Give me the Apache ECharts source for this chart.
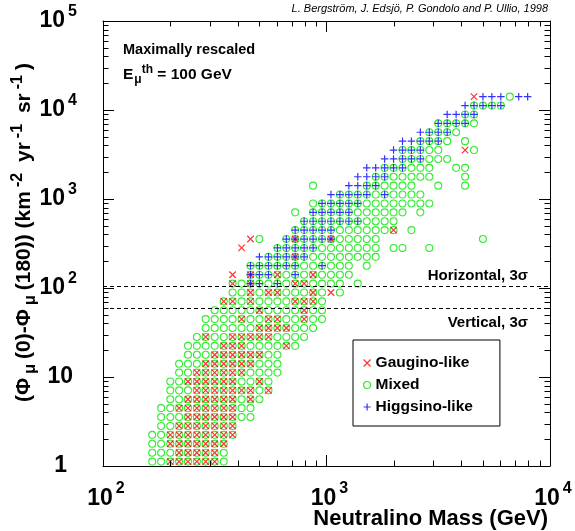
<!DOCTYPE html>
<html>
<head>
<meta charset="utf-8">
<title>Neutralino mass vs muon flux difference</title>
<script src="https://cdn.jsdelivr.net/npm/echarts@6.0.0/dist/echarts.min.js"></script>
<style>
  html, body { margin: 0; padding: 0; background: #fff; }
  #chart { width: 575px; height: 531px; }
</style>
</head>
<body>
<div id="chart"></div>
<script>
// bin centres of the log grid the models sit on
const massBins = [166, 182, 200, 219, 240, 263, 288, 316, 347, 380, 417, 457, 501, 550, 603,
  661, 724, 794, 871, 955, 1047, 1148, 1259, 1380, 1514, 1660, 1820, 1995, 2188, 2399, 2630,
  2884, 3162, 3467, 3802, 4169, 4571, 5012, 5495, 6026, 6607, 7244, 7943];
const fluxBins = [1.12, 1.41, 1.78, 2.24, 2.82, 3.55, 4.47, 5.62, 7.08, 8.91, 11.2, 14.1, 17.8,
  22.4, 28.2, 35.5, 44.7, 56.2, 70.8, 89.1, 112, 141, 178, 224, 282, 355, 447, 562, 708, 891,
  1122, 1413, 1778, 2239, 2818, 3548, 4467, 5623, 7079, 8913, 11220, 14125];

// [flux bin, first mass bin, cells]
// o mixed, x gaugino + mixed, X gaugino only, + higgsino only, h higgsino + mixed, a all three
const cellRows = [
  [41, 36, 'X+++o++'],
  [40, 35, '+hhhh'],
  [39, 33, '++hh'],
  [38, 32, 'hhhho'],
  [37, 30, '+hhho'],
  [36, 28, '++hhho.o'],
  [35, 27, '+hhhoo..Xo'],
  [34, 26, '++hhhooo'],
  [33, 24, '++hhhooo..oo'],
  [32, 23, '++hhooooo...o'],
  [31, 18, 'o...++hhoooo..o..o'],
  [30, 20, '+hhhhohoooo'],
  [29, 18, 'ohhhhhoooooooo'],
  [28, 16, 'o.hhhhhoooooo.o'],
  [27, 17, 'hhhhhhhoooo'],
  [26, 16, 'hhhhhoooooox.o'],
  [25, 11, 'Xo..hahhhaooooo...........o'],
  [24, 10, 'X...hhhhhooooooo.oo..o'],
  [23, 12, '+hhhahoooooooo'],
  [22, 11, 'hhhhhhoohooo.o'],
  [21, 9, 'X.ahhxohoxoooo'],
  [20, 9, 'xoahohoxxoooo.o'],
  [19, 9, 'ooxoxxoooxoXo'],
  [18, 8, 'xxoxooooxxxo'],
  [17, 7, 'oooooxooooxoo'],
  [16, 6, 'ooooxooxxooxoo'],
  [15, 6, 'ooooooxxxxooo'],
  [14, 5, 'oxooxxxxxoooo'],
  [13, 4, 'ooooxxxooooxo'],
  [12, 4, 'oooxxxxxxoo'],
  [11, 3, 'oooxxxxxxooo'],
  [10, 3, 'ooxxxxxxoooo'],
  [9, 2, 'ooxxxxxxooxo'],
  [8, 2, 'oooxxxxxxxox'],
  [7, 2, 'ooxxxxxxoxo'],
  [6, 1, 'ooxxxxxxxoo'],
  [5, 1, 'oooxxxxxxoo'],
  [4, 1, 'ooxxxxxxx'],
  [3, 0, 'ooxxxxxxxx'],
  [2, 0, 'ooxxxxxxx'],
  [1, 0, 'oooxxxxxo'],
  [0, 0, 'ooxxxxxxo']
];

const seriesNames = ['Gaugino-like', 'Mixed', 'Higgsino-like'];
const sigmaLevels = [104, 58.5];
const sigmaLabels = ['Horizontal, 3σ', 'Vertical, 3σ'];
const xRange = [100, 10000];
const yRange = [1, 100000];
const minorSteps = [2, 3, 4, 5, 6, 7, 8, 9];

const FONT = '"Liberation Sans", Arial, Helvetica, sans-serif';

const gauginoPts = [], mixedPts = [], higgsinoPts = [];
cellRows.forEach(([row, start, cells]) => {
  for (let k = 0; k < cells.length; k++) {
    const c = cells[k];
    if (c === '.') continue;
    const p = [massBins[start + k], fluxBins[row]];
    if ('oxha'.includes(c)) mixedPts.push(p);
    if ('xXa'.includes(c)) gauginoPts.push(p);
    if ('+ha'.includes(c)) higgsinoPts.push(p);
  }
});

const xMinor = [], yMinor = [];
[100, 1000].forEach(d => minorSteps.forEach(m => xMinor.push(m * d)));
[1, 10, 100, 1000, 10000].forEach(d => minorSteps.forEach(m => yMinor.push(m * d)));

// log axis only gives decade ticks, so the 2..9 ticks are drawn through the axis scale
function minorTicks(values, isX) {
  return {
    type: 'custom',
    silent: true,
    clip: false,
    z: 6,
    data: values.map(v => isX ? [v, yRange[0]] : [xRange[0], v]),
    renderItem: (params, api) => {
      const v = api.value(isX ? 0 : 1);
      const a = api.coord(isX ? [v, yRange[0]] : [xRange[0], v]);
      const b = api.coord(isX ? [v, yRange[1]] : [xRange[1], v]);
      const len = 5.5;
      const st = { stroke: '#000', lineWidth: 1 };
      if (isX) {
        const x = Math.round(a[0]) + 0.5;
        return { type: 'group', children: [
          { type: 'line', shape: { x1: x, y1: a[1], x2: x, y2: a[1] - len }, style: st },
          { type: 'line', shape: { x1: x, y1: b[1], x2: x, y2: b[1] + len }, style: st }
        ] };
      }
      const y = Math.round(a[1]) + 0.5;
      return { type: 'group', children: [
        { type: 'line', shape: { x1: a[0], y1: y, x2: a[0] + len, y2: y }, style: st },
        { type: 'line', shape: { x1: b[0], y1: y, x2: b[0] - len, y2: y }, style: st }
      ] };
    }
  };
}

function powerLabel(v) {
  const e = Math.round(Math.log10(v));
  if (e === 0) return '{one|1}';
  if (e === 1) return '{ten|10}';
  return '{b|10}{e|' + e + '}';
}

const bold = (size, extra) => Object.assign(
  { fontSize: size, fontWeight: 'bold', fontFamily: FONT, color: '#000' }, extra || {});

const yLabelRich = {
  b: bold(23, { lineHeight: 34 }),
  e: bold(16, { lineHeight: 16, verticalAlign: 'top', padding: [0, 0, 0, 3] }),
  ten: bold(23, { lineHeight: 34, padding: [0, 4, 0, 0] }),
  one: bold(23, { lineHeight: 34, padding: [0, 10, 0, 0] })
};
const xLabelRich = {
  b: bold(23, { lineHeight: 36, padding: [0, 0, 0, 6] }),
  e: bold(16, { lineHeight: 16, verticalAlign: 'top', padding: [0, 0, 0, 3] })
};

const frameAxis = {
  type: 'log',
  logBase: 10,
  axisLine: { show: true, lineStyle: { color: '#000', width: 1 } },
  axisTick: { show: true, inside: true, length: 11, lineStyle: { color: '#000', width: 1 } },
  splitLine: { show: false },
  minorTick: { show: false }
};

const chart = echarts.init(document.getElementById('chart'), null, { renderer: 'canvas' });

chart.setOption({
  animation: false,
  backgroundColor: '#fff',
  textStyle: { fontFamily: FONT },
  grid: { left: 103, right: 25, top: 21, bottom: 65, containLabel: false, outerBoundsMode: 'none' },
  xAxis: [
    Object.assign({}, frameAxis, {
      position: 'bottom', min: xRange[0], max: xRange[1],
      axisLabel: { margin: 15, formatter: powerLabel, rich: xLabelRich },
      name: 'Neutralino Mass (GeV)',
      nameLocation: 'end',
      nameGap: -2,
      nameMoveOverlap: false,
      nameTextStyle: bold(22, { align: 'right', verticalAlign: 'top', padding: [42, 0, 0, 0] })
    }),
    Object.assign({}, frameAxis, {
      position: 'top', min: xRange[0], max: xRange[1], axisLabel: { show: false }
    })
  ],
  yAxis: [
    Object.assign({}, frameAxis, {
      position: 'left', min: yRange[0], max: yRange[1],
      axisLabel: { margin: 26, formatter: powerLabel, rich: yLabelRich },
      name: '{n|(Φ}{s|μ}{n|(0)-Φ}{s|μ}{n|(180)) (km}{u|-2}{n| yr}{u|-1}{n| sr}{u|-1}{n|)}',
      nameLocation: 'middle',
      nameRotate: 90,
      nameGap: 64,
      nameMoveOverlap: false,
      nameTextStyle: {
        padding: [0, 0, 0, 22],
        rich: {
          n: bold(21, { lineHeight: 29 }),
          s: bold(16, { lineHeight: 15, verticalAlign: 'bottom', padding: [0, 5, 0, 4] }),
          u: bold(16, { lineHeight: 15, verticalAlign: 'top', padding: [0, 5, 0, 4] })
        }
      }
    }),
    Object.assign({}, frameAxis, {
      position: 'right', min: yRange[0], max: yRange[1], axisLabel: { show: false }
    })
  ],
  legend: {
    data: seriesNames,
    orient: 'vertical',
    left: 353,
    top: 340,
    backgroundColor: '#fff',
    borderColor: '#000',
    borderWidth: 1,
    borderRadius: 0,
    padding: [15, 27, 11, 10],
    itemGap: 6,
    itemWidth: 7,
    itemHeight: 7,
    itemStyle: { borderWidth: 1.2 },
    selectedMode: false,
    textStyle: bold(15.5)
  },
  graphic: [
    {
      type: 'text', right: 27, top: 3,
      style: { text: 'L. Bergström, J. Edsjö, P. Gondolo and P. Ullio, 1998',
               fontSize: 11, fontStyle: 'italic', fontFamily: FONT, fill: '#000' }
    },
    {
      type: 'text', left: 123, top: 42,
      style: { text: 'Maximally rescaled', fontSize: 14.5, fontWeight: 'bold', fontFamily: FONT, fill: '#000' }
    },
    {
      type: 'text', left: 123, top: 64,
      style: {
        text: '{n|E}{s|μ}{u|th}{n| = 100 GeV}',
        rich: {
          n: { fontSize: 15.5, fontWeight: 'bold', fontFamily: FONT, fill: '#000', lineHeight: 22 },
          s: { fontSize: 12, fontWeight: 'bold', fontFamily: FONT, fill: '#000', lineHeight: 11,
               verticalAlign: 'bottom', padding: [0, 0, 0, 1] },
          u: { fontSize: 12, fontWeight: 'bold', fontFamily: FONT, fill: '#000', lineHeight: 11,
               verticalAlign: 'top' }
        }
      }
    }
  ],
  series: [
    {
      name: seriesNames[1], type: 'scatter', data: mixedPts,
      symbol: 'circle', symbolSize: 7, z: 2,
      itemStyle: { color: 'transparent', borderColor: '#00e600', borderWidth: 1.1 },
      emphasis: { disabled: true }
    },
    {
      name: seriesNames[0], type: 'scatter', data: gauginoPts,
      symbol: 'path://M0,0L10,10M10,0L0,10', symbolSize: 6.5, z: 3,
      itemStyle: { color: 'transparent', borderColor: '#ff0000', borderWidth: 1.2 },
      emphasis: { disabled: true }
    },
    {
      name: seriesNames[2], type: 'scatter', data: higgsinoPts,
      symbol: 'path://M5,0L5,10M0,5L10,5', symbolSize: 7.5, z: 4,
      itemStyle: { color: 'transparent', borderColor: '#0000ff', borderWidth: 1.2 },
      emphasis: { disabled: true },
      markLine: {
        silent: true,
        symbol: ['none', 'none'],
        lineStyle: { color: '#000', type: [4, 3], width: 1 },
        label: bold(15),
        data: [
          { yAxis: sigmaLevels[0],
            label: { formatter: sigmaLabels[0], position: 'insideEndTop', distance: [22, 3] } },
          { yAxis: sigmaLevels[1],
            label: { formatter: sigmaLabels[1], position: 'insideEndBottom', distance: [22, 7] } }
        ]
      }
    },
    minorTicks(xMinor, true),
    minorTicks(yMinor, false)
  ]
});
</script>
</body>
</html>
